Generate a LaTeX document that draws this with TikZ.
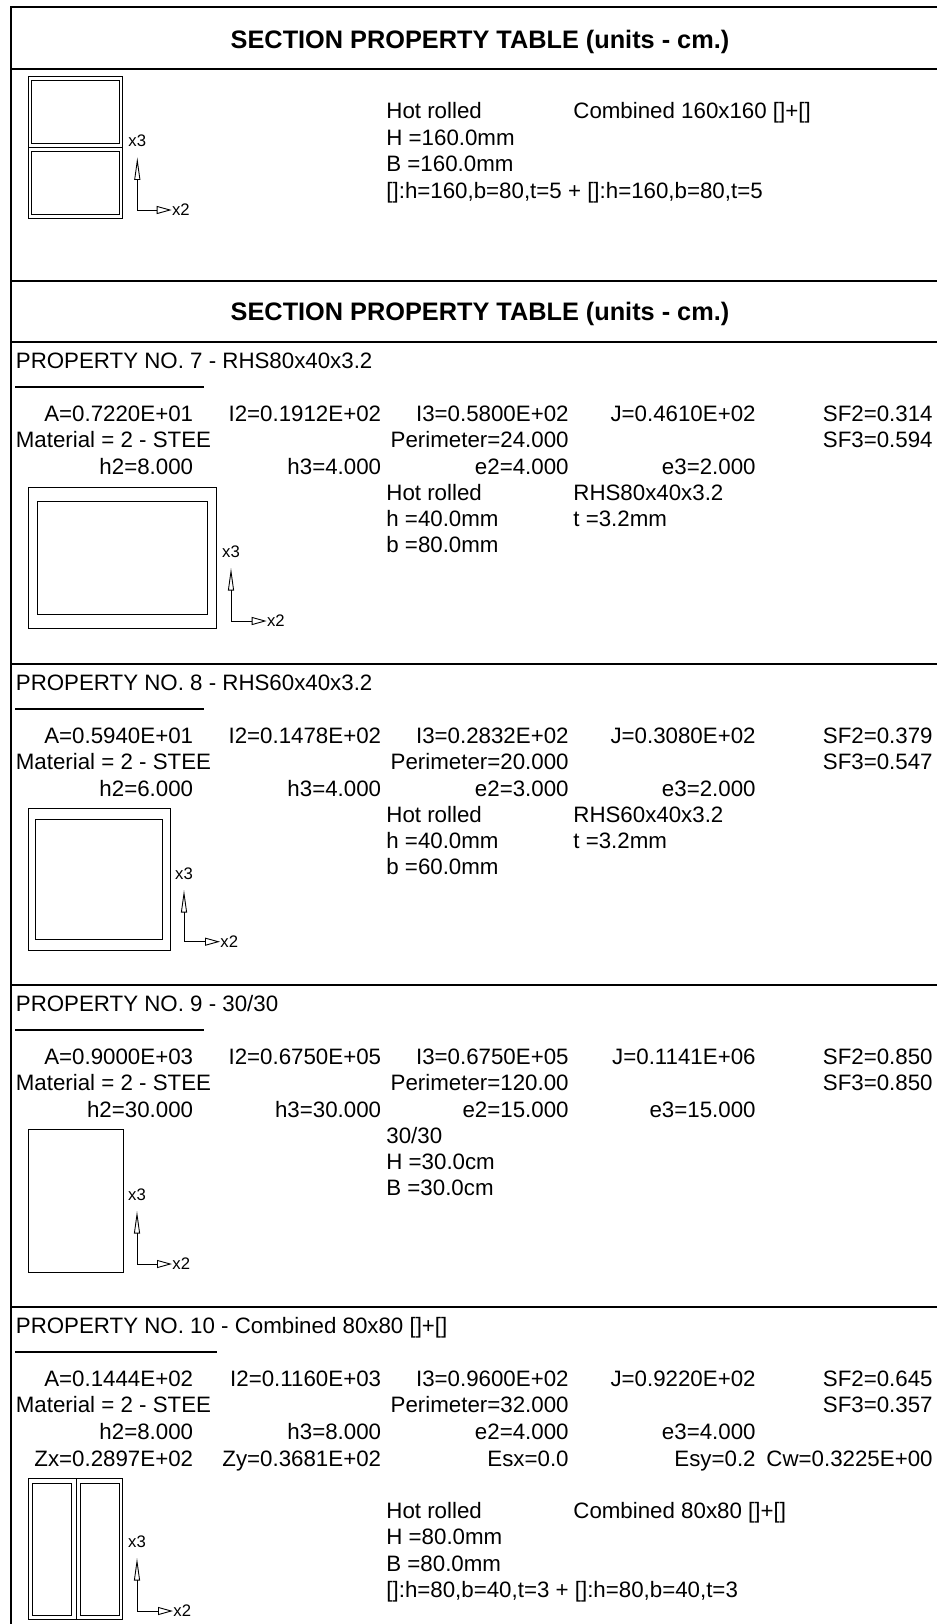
\documentclass[tikz,border=0pt]{standalone}
\usepackage{fontspec}
\setmainfont{Liberation Sans}
\usepackage{tikz}
\usetikzlibrary{arrows.meta}
\usetikzlibrary{positioning}

\begin{document}
\begin{tikzpicture}[x=0.5pt, y=-0.5pt,
    txt/.style={inner sep=0pt, font=\fontsize{11.15}{13}\selectfont},
    lft/.style={txt, anchor=base west},
    rgt/.style={txt, anchor=base east},
    ttl/.style={inner sep=0pt, anchor=base, font=\fontsize{12.65}{15}\selectfont\bfseries},
    axl/.style={inner sep=0pt, font=\fontsize{8.35}{10}\selectfont},
    frame/.style={line width=0.65pt},
    boldline/.style={line width=1.35pt},
    secline/.style={line width=0.9pt},
    uline/.style={line width=0.65pt},
    shapeline/.style={line width=0.45pt},
    axv/.style={line width=0.45pt, -{Triangle[open, length=11.3pt, width=3pt]}},
    axh/.style={line width=0.45pt, -{Triangle[open, length=7.5pt, width=4pt]}}]

    \useasboundingbox (0,0) rectangle (937,1624);

    % table lines
    \draw[frame] (11,1650) -- (11,7) -- (950,7);
    \draw[frame] (11,69) -- (950,69);
    \draw[frame] (11,281) -- (950,281);
    \draw[boldline] (11,342) -- (950,342);
    \draw[secline] (11,664) -- (950,664);
    \draw[secline] (11,985) -- (950,985);
    \draw[secline] (11,1307) -- (950,1307);

    \node[ttl] (t1) at (480,48) {SECTION PROPERTY TABLE (units - cm.)};
    \node[ttl] (t2) at (480,320.5) {SECTION PROPERTY TABLE (units - cm.)};

    % combined 160x160
    \draw[shapeline] (28.7,76) rectangle (122.7,218.3) (28.7,147.3) -- (122.7,147.3);
    \draw[shapeline] (31.7,80) rectangle (119.7,143) (31.7,151.7) rectangle (119.7,214.3);
    \coordinate (o0) at (137.3,210);
    \coordinate (v0) at (137.3,157.3);
    \coordinate (w0) at (171.7,210);
    \draw[axv] (o0) -- (v0);
    \draw[axh] (o0) -- (w0);
    \node[axl, above=5pt of v0] (xc0) {x3};
    \node[axl, right=0pt of w0] (xb0) {x2};
    \node[lft] (ht0) at (386,118.3) {Hot rolled};
    \node[lft] (cb0) at (573,118.3) {Combined 160x160 []+[]};
    \node[lft] (hh0) at (386,145) {H =160.0mm};
    \node[lft] (bb0) at (386,171.7) {B =160.0mm};
    \node[lft] (pp0) at (386,198.3) {[]:h=160,b=80,t=5 + []:h=160,b=80,t=5};

    % property 7
    \begin{scope}[shift={(0,342)}]
        \node[lft] (p7) at (15.5,26.7) {PROPERTY NO. 7 - RHS80x40x3.2};
        \draw[uline] (15,45) -- (204,45);
        \node[rgt] (a7) at (193.5,79.7) {A=0.7220E+01};
        \node[rgt] (ib7) at (381.5,79.7) {I2=0.1912E+02};
        \node[rgt] (ic7) at (569,79.7) {I3=0.5800E+02};
        \node[rgt] (j7) at (756,79.7) {J=0.4610E+02};
        \node[rgt] (sfb7) at (933,79.7) {SF2=0.314};
        \node[lft] (m7) at (15.5,105.7) {Material = 2 - STEE};
        \node[rgt] (pm7) at (569,105.7) {Perimeter=24.000};
        \node[rgt] (sfc7) at (933,105.7) {SF3=0.594};
        \node[rgt] (hb7) at (193.5,132) {h2=8.000};
        \node[rgt] (hc7) at (381.5,132) {h3=4.000};
        \node[rgt] (eb7) at (569,132) {e2=4.000};
        \node[rgt] (ec7) at (756,132) {e3=2.000};
        \node[lft] (ht7) at (386,158) {Hot rolled};
        \node[lft] (rh7) at (573,158) {RHS80x40x3.2};
        \node[lft] (hh7) at (386,184) {h =40.0mm};
        \node[lft] (tt7) at (573,184) {t =3.2mm};
        \node[lft] (bb7) at (386,210) {b =80.0mm};
        \draw[shapeline] (28.7,145) rectangle (216.7,286) (37.7,159) rectangle (207.3,272);
        \coordinate (o7) at (231,279);
        \coordinate (v7) at (231,226);
        \coordinate (w7) at (266.7,279);
        \draw[axv] (o7) -- (v7);
        \draw[axh] (o7) -- (w7);
        \node[axl, above=5pt of v7] (xc7) {x3};
        \node[axl, right=0pt of w7] (xb7) {x2};
    \end{scope}

    % property 8
    \begin{scope}[shift={(0,664)}]
        \node[lft] (p8) at (15.5,26.7) {PROPERTY NO. 8 - RHS60x40x3.2};
        \draw[uline] (15,45) -- (204,45);
        \node[rgt] (a8) at (193.5,79.7) {A=0.5940E+01};
        \node[rgt] (ib8) at (381.5,79.7) {I2=0.1478E+02};
        \node[rgt] (ic8) at (569,79.7) {I3=0.2832E+02};
        \node[rgt] (j8) at (756,79.7) {J=0.3080E+02};
        \node[rgt] (sfb8) at (933,79.7) {SF2=0.379};
        \node[lft] (m8) at (15.5,105.7) {Material = 2 - STEE};
        \node[rgt] (pm8) at (569,105.7) {Perimeter=20.000};
        \node[rgt] (sfc8) at (933,105.7) {SF3=0.547};
        \node[rgt] (hb8) at (193.5,132) {h2=6.000};
        \node[rgt] (hc8) at (381.5,132) {h3=4.000};
        \node[rgt] (eb8) at (569,132) {e2=3.000};
        \node[rgt] (ec8) at (756,132) {e3=2.000};
        \node[lft] (ht8) at (386,158) {Hot rolled};
        \node[lft] (rh8) at (573,158) {RHS60x40x3.2};
        \node[lft] (hh8) at (386,184) {h =40.0mm};
        \node[lft] (tt8) at (573,184) {t =3.2mm};
        \node[lft] (bb8) at (386,210) {b =60.0mm};
        \draw[shapeline] (28.7,144) rectangle (170,286) (35.7,155) rectangle (162.7,275);
        \coordinate (o8) at (184,277.7);
        \coordinate (v8) at (184,226);
        \coordinate (w8) at (220,277.7);
        \draw[axv] (o8) -- (v8);
        \draw[axh] (o8) -- (w8);
        \node[axl, above=5pt of v8] (xc8) {x3};
        \node[axl, right=0pt of w8] (xb8) {x2};
    \end{scope}

    % property 9
    \begin{scope}[shift={(0,985)}]
        \node[lft] (p9) at (15.5,26.7) {PROPERTY NO. 9 - 30/30};
        \draw[uline] (15,45) -- (204,45);
        \node[rgt] (a9) at (193.5,79.7) {A=0.9000E+03};
        \node[rgt] (ib9) at (381.5,79.7) {I2=0.6750E+05};
        \node[rgt] (ic9) at (569,79.7) {I3=0.6750E+05};
        \node[rgt] (j9) at (756,79.7) {J=0.1141E+06};
        \node[rgt] (sfb9) at (933,79.7) {SF2=0.850};
        \node[lft] (m9) at (15.5,105.7) {Material = 2 - STEE};
        \node[rgt] (pm9) at (569,105.7) {Perimeter=120.00};
        \node[rgt] (sfc9) at (933,105.7) {SF3=0.850};
        \node[rgt] (hb9) at (193.5,132) {h2=30.000};
        \node[rgt] (hc9) at (381.5,132) {h3=30.000};
        \node[rgt] (eb9) at (569,132) {e2=15.000};
        \node[rgt] (ec9) at (756,132) {e3=15.000};
        \node[lft] (ht9) at (386,158) {30/30};
        \node[lft] (hh9) at (386,184) {H =30.0cm};
        \node[lft] (bb9) at (386,210) {B =30.0cm};
        \draw[shapeline] (28.7,144) rectangle (123.3,287);
        \coordinate (o9) at (137,279);
        \coordinate (v9) at (137,226);
        \coordinate (w9) at (172,279);
        \draw[axv] (o9) -- (v9);
        \draw[axh] (o9) -- (w9);
        \node[axl, above=5pt of v9] (xc9) {x3};
        \node[axl, right=0pt of w9] (xb9) {x2};
    \end{scope}

    % property 10
    \begin{scope}[shift={(0,1307)}]
        \node[lft] (p10) at (15.5,26.7) {PROPERTY NO. 10 - Combined 80x80 []+[]};
        \draw[uline] (15,45) -- (217,45);
        \node[rgt] (a10) at (193.5,79.7) {A=0.1444E+02};
        \node[rgt] (ib10) at (381.5,79.7) {I2=0.1160E+03};
        \node[rgt] (ic10) at (569,79.7) {I3=0.9600E+02};
        \node[rgt] (j10) at (756,79.7) {J=0.9220E+02};
        \node[rgt] (sfb10) at (933,79.7) {SF2=0.645};
        \node[lft] (m10) at (15.5,105.7) {Material = 2 - STEE};
        \node[rgt] (pm10) at (569,105.7) {Perimeter=32.000};
        \node[rgt] (sfc10) at (933,105.7) {SF3=0.357};
        \node[rgt] (hb10) at (193.5,132) {h2=8.000};
        \node[rgt] (hc10) at (381.5,132) {h3=8.000};
        \node[rgt] (eb10) at (569,132) {e2=4.000};
        \node[rgt] (ec10) at (756,132) {e3=4.000};
        \node[rgt] (zx10) at (193.5,159) {Zx=0.2897E+02};
        \node[rgt] (zy10) at (381.5,159) {Zy=0.3681E+02};
        \node[rgt] (ex10) at (569,159) {Esx=0.0};
        \node[rgt] (ey10) at (756,159) {Esy=0.2};
        \node[rgt] (cw10) at (933,159) {Cw=0.3225E+00};
        \node[lft] (ht10) at (386,211.3) {Hot rolled};
        \node[lft] (cb10) at (573,211.3) {Combined 80x80 []+[]};
        \node[lft] (hh10) at (386,237.8) {H =80.0mm};
        \node[lft] (bb10) at (386,264.3) {B =80.0mm};
        \node[lft] (pp10) at (386,290.8) {[]:h=80,b=40,t=3 + []:h=80,b=40,t=3};
        \draw[shapeline] (28.7,171) rectangle (122.7,312.3) (76,171) -- (76,312.3);
        \draw[shapeline] (32.3,176.3) rectangle (71.7,308) (80,176.3) rectangle (119,308);
        \coordinate (o10) at (137,304);
        \coordinate (v10) at (137,251);
        \coordinate (w10) at (173,304);
        \draw[axv] (o10) -- (v10);
        \draw[axh] (o10) -- (w10);
        \node[axl, above=5pt of v10] (xc10) {x3};
        \node[axl, right=0pt of w10] (xb10) {x2};
    \end{scope}
\end{tikzpicture}
\end{document}
